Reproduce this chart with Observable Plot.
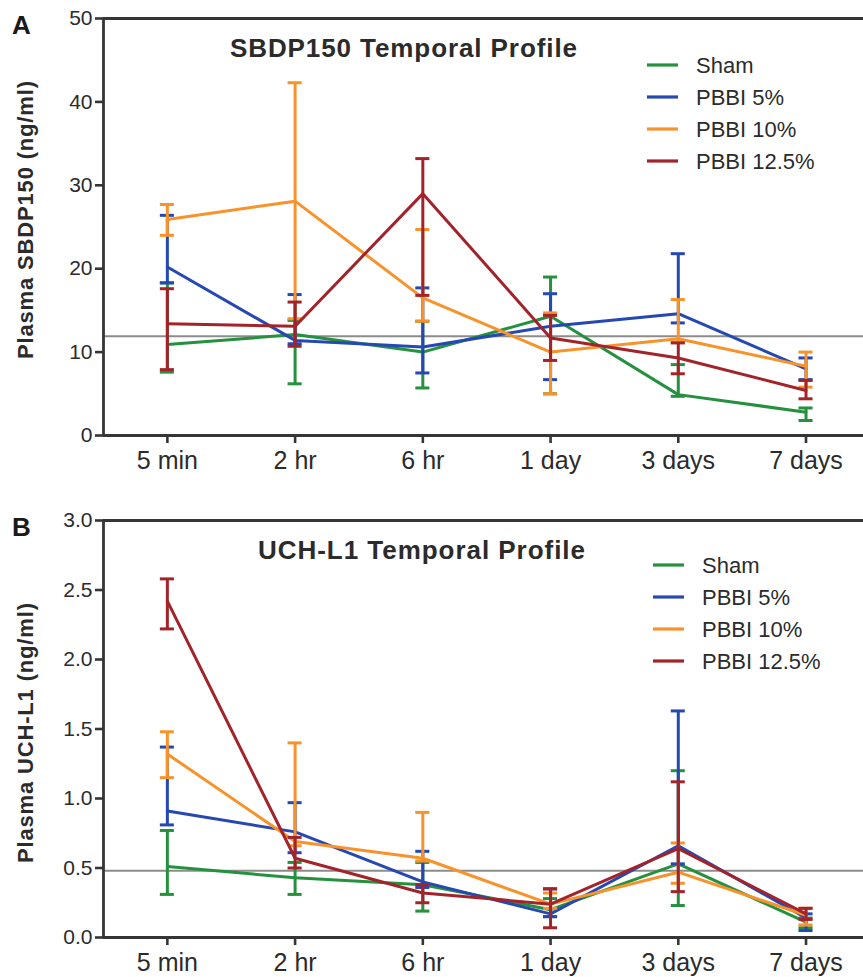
<!DOCTYPE html>
<html><head><meta charset="utf-8">
<script src="https://cdn.jsdelivr.net/npm/d3@7"></script>
<script src="https://cdn.jsdelivr.net/npm/@observablehq/plot@0.6"></script>
<style>
body{margin:0;background:#fff;font-family:"Liberation Sans",Arial,sans-serif;}
#wrap{width:863px;}
#wrap svg{display:block;overflow:visible;}
</style></head><body><div id="wrap"></div>
<script>
// ---------- data ----------
const timepoints = ["5 min", "2 hr", "6 hr", "1 day", "3 days", "7 days"];
const groups = ["Sham", "PBBI 5%", "PBBI 10%", "PBBI 12.5%"];
const groupColors = ["#25913f", "#2548b2", "#f8922b", "#a2242a"];

// Panel A: SBDP150 (ng/ml)
const sbdpSham      = [10.9, 12.1, 10.0, 14.3, 4.9, 2.8];
const sbdpShamLow   = [7.6, 6.2, 5.7, 5.0, 4.7, 1.8];
const sbdpShamHigh  = [18.3, 13.8, 13.7, 19.0, 8.5, 3.3];
const sbdp5         = [20.2, 11.4, 10.6, 13.1, 14.6, 8.0];
const sbdp5Low      = [18.3, 11.0, 7.5, 6.7, 13.5, 6.7];
const sbdp5High     = [26.4, 16.9, 17.7, 17.0, 21.8, 9.3];
const sbdp10        = [25.9, 28.1, 16.5, 10.0, 11.6, 8.3];
const sbdp10Low     = [24.0, 14.0, 13.7, 5.0, 11.2, 5.8];
const sbdp10High    = [27.7, 42.3, 24.7, 14.7, 16.3, 10.0];
const sbdp125       = [13.4, 13.1, 29.0, 11.7, 9.3, 5.4];
const sbdp125Low    = [7.9, 10.7, 16.8, 9.0, 7.4, 4.4];
const sbdp125High   = [17.6, 16.0, 33.2, 14.4, 11.1, 6.6];
const sbdpRef = 11.9;
const sbdpTicks = [0, 10, 20, 30, 40, 50];

// Panel B: UCH-L1 (ng/ml)
const uchSham      = [0.51, 0.43, 0.38, 0.20, 0.53, 0.11];
const uchShamLow   = [0.31, 0.31, 0.19, 0.15, 0.23, 0.07];
const uchShamHigh  = [0.77, 0.54, 0.54, 0.28, 1.20, 0.14];
const uch5         = [0.91, 0.76, 0.40, 0.17, 0.66, 0.14];
const uch5Low      = [0.81, 0.61, 0.36, 0.15, 0.53, 0.05];
const uch5High     = [1.37, 0.97, 0.62, 0.35, 1.63, 0.17];
const uch10        = [1.32, 0.69, 0.57, 0.24, 0.47, 0.16];
const uch10Low     = [1.15, 0.66, 0.55, 0.21, 0.39, 0.09];
const uch10High    = [1.48, 1.40, 0.90, 0.32, 0.68, 0.21];
const uch125       = [2.42, 0.57, 0.32, 0.24, 0.64, 0.17];
const uch125Low    = [2.22, 0.50, 0.25, 0.07, 0.33, 0.13];
const uch125High   = [2.58, 0.72, 0.38, 0.35, 1.12, 0.21];
const uchRef = 0.48;
const uchTicks = [0, 0.5, 1.0, 1.5, 2.0, 2.5, 3.0];

// ---------- helpers ----------
const FONT = '"Liberation Sans", Arial, sans-serif';
const TXT = "#2b2b2b";
const AX = "#353535";

function rowsFor(series) {
  const rows = [];
  series.forEach(([m, lo, hi], g) => {
    m.forEach((v, i) => rows.push({i, time: timepoints[i], group: groups[g], mean: v, lo: lo[i], hi: hi[i]}));
  });
  return rows;
}

function panel(cfg) {
  const {rows, yMax, yTicks, yFmt, ref, height, marginTop, marginBottom} = cfg;
  const capW = 0.055;
  const SW = 3;
  const marks = [
    Plot.ruleY([ref], {stroke: "#8c8c8c", strokeWidth: 2})
  ];
  for (const g of groups) {
    const d = rows.filter(r => r.group === g);
    marks.push(
      Plot.line(d, {x: "i", y: "mean", stroke: "group", strokeWidth: SW}),
      Plot.ruleX(d, {x: "i", y1: "lo", y2: "hi", stroke: "group", strokeWidth: SW}),
      Plot.ruleY(d, {y: "lo", x1: r => r.i - capW, x2: r => r.i + capW, stroke: "group", strokeWidth: SW}),
      Plot.ruleY(d, {y: "hi", x1: r => r.i - capW, x2: r => r.i + capW, stroke: "group", strokeWidth: SW})
    );
  }
  marks.push(
    Plot.ruleY([0, yMax], {stroke: AX, strokeWidth: 2.8}),
    Plot.ruleX([-0.5], {y1: 0, y2: yMax, stroke: AX, strokeWidth: 2.8}),
    Plot.axisY({ticks: yTicks, tickFormat: yFmt, tickSize: 8, tickPadding: 3, fontSize: 21, color: AX, strokeWidth: 2.6, label: null, fill: TXT}),
    Plot.axisX({ticks: d3.range(timepoints.length), tickFormat: i => timepoints[i], tickSize: 8, tickPadding: 8, fontSize: 25, color: AX, strokeWidth: 2.6, label: null, fill: TXT})
  );
  const svg = Plot.plot({
    width: 863, height, marginLeft: 103, marginRight: 0, marginTop, marginBottom,
    style: {fontFamily: FONT, background: "white", color: TXT},
    x: {type: "linear", domain: [-0.5, 5.45]},
    y: {domain: [0, yMax]},
    color: {domain: groups, range: groupColors},
    marks
  });
  const s = d3.select(svg);
  s.append("text").attr("x", 12).attr("y", cfg.letterY).text(cfg.letter).attr("text-anchor", "start")
    .attr("font-family", FONT).attr("font-weight", "bold").attr("font-size", 26).attr("fill", "#1a1a1a");
  s.append("text").attr("x", cfg.titleX).attr("y", cfg.titleY).text(cfg.title).attr("text-anchor", "start")
    .attr("font-family", FONT).attr("font-weight", "bold").attr("font-size", 26).attr("fill", TXT)
    .attr("textLength", cfg.titleLen).attr("lengthAdjust", "spacing");
  s.append("text").attr("transform", `translate(33,${cfg.yLabelY}) rotate(-90)`).attr("text-anchor", "middle")
    .text(cfg.yLabel).attr("font-family", FONT).attr("font-weight", "bold").attr("font-size", 22).attr("fill", TXT)
    .attr("textLength", cfg.yLabelLen).attr("lengthAdjust", "spacing");
  groups.forEach((g, k) => {
    const y = cfg.legY + k * 32;
    s.append("line").attr("x1", cfg.legX).attr("x2", cfg.legX + 31).attr("y1", y).attr("y2", y)
      .attr("stroke", groupColors[k]).attr("stroke-width", 3.2);
    s.append("text").attr("x", cfg.legX + 49).attr("y", y).attr("dy", "0.36em").text(g).attr("text-anchor", "start")
      .attr("font-family", FONT).attr("font-size", 22).attr("fill", TXT);
  });
  return svg;
}

const wrap = document.getElementById("wrap");
wrap.appendChild(panel({
  rows: rowsFor([[sbdpSham, sbdpShamLow, sbdpShamHigh], [sbdp5, sbdp5Low, sbdp5High], [sbdp10, sbdp10Low, sbdp10High], [sbdp125, sbdp125Low, sbdp125High]]),
  yMax: 50, yTicks: sbdpTicks, yFmt: d3.format("d"), ref: sbdpRef,
  height: 488, marginTop: 18, marginBottom: 53,
  letter: "A", letterY: 34,
  title: "SBDP150 Temporal Profile", titleX: 230, titleY: 57, titleLen: 347,
  yLabel: "Plasma SBDP150 (ng/ml)", yLabelY: 220, yLabelLen: 278,
  legX: 647, legY: 65
}));
wrap.appendChild(panel({
  rows: rowsFor([[uchSham, uchShamLow, uchShamHigh], [uch5, uch5Low, uch5High], [uch10, uch10Low, uch10High], [uch125, uch125Low, uch125High]]),
  yMax: 3, yTicks: uchTicks, yFmt: d3.format(".1f"), ref: uchRef,
  height: 489, marginTop: 32, marginBottom: 40,
  letter: "B", letterY: 48,
  title: "UCH-L1 Temporal Profile", titleX: 258, titleY: 71, titleLen: 327,
  yLabel: "Plasma UCH-L1 (ng/ml)", yLabelY: 245, yLabelLen: 260,
  legX: 653, legY: 77
}));
</script></body></html>
